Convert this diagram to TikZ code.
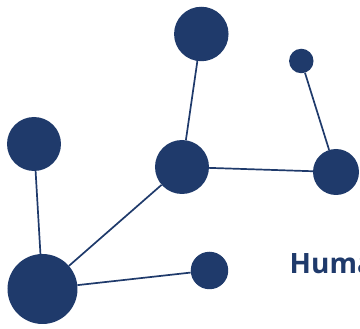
\documentclass[tikz,border=0pt]{standalone}
\usepackage{fontspec}
\setmainfont{Open Sans}
\definecolor{navy}{RGB}{31,58,107}

\begin{document}
\begin{tikzpicture}[x=1pt,y=-1pt,
  dot/.style={draw=none,fill=navy,circle,inner sep=0pt,minimum size=#1},
  link/.style={navy,line width=1.7pt}]
  \useasboundingbox (0,0) rectangle (360,329);
  \clip (0,0) rectangle (360,329);
  \node[dot=70pt] (hub) at (42.5,289) {};
  \node[dot=54pt] (left) at (34,144) {};
  \node[dot=54pt] (mid) at (182,167) {};
  \node[dot=54.5pt] (top) at (201.3,34) {};
  \node[dot=24.5pt] (tiny) at (301.3,61) {};
  \node[dot=46pt] (right) at (336,172) {};
  \node[dot=37.5pt] (low) at (209.5,270.5) {};
  \draw[link] (hub) -- (left) (hub) -- (mid) (hub) -- (low);
  \draw[link] (mid) -- (top) (mid) -- (right);
  \draw[link] (right) -- (tiny);
  \node[anchor=base west,inner sep=0pt,text=navy,font=\bfseries\fontsize{28}{33}\selectfont]
    (title) at (289.5,274) {Huma};
\end{tikzpicture}
\end{document}
